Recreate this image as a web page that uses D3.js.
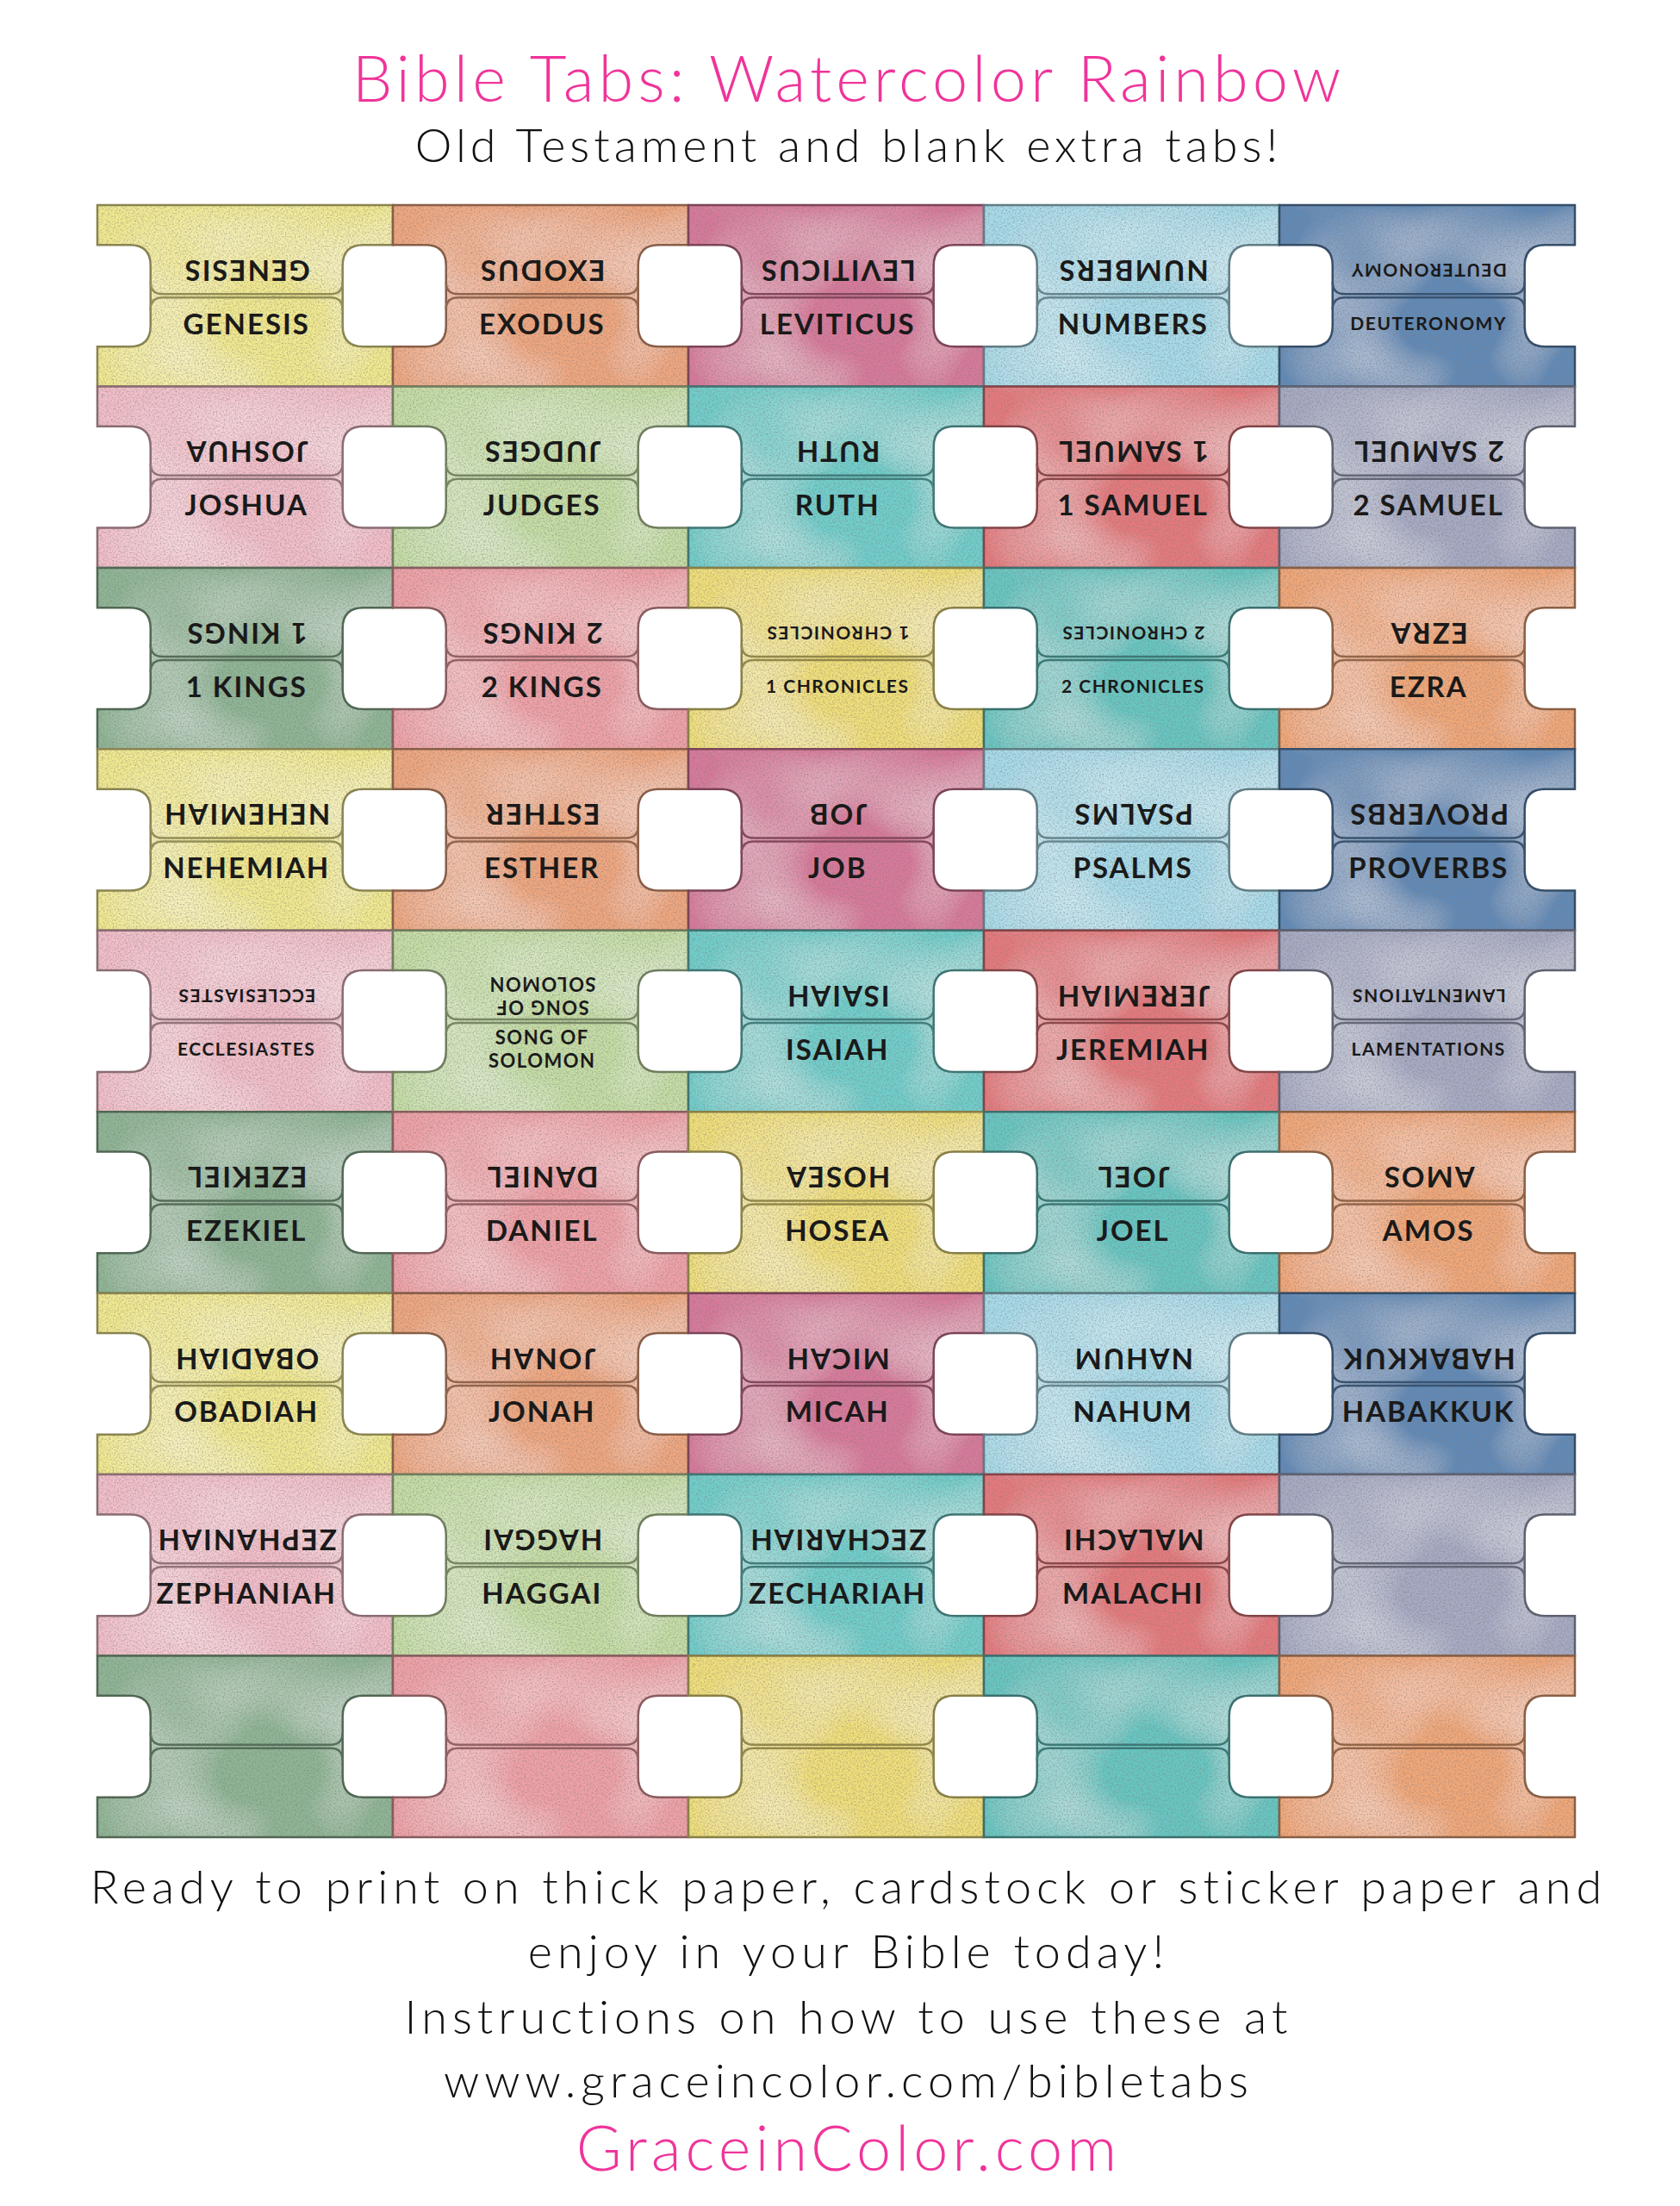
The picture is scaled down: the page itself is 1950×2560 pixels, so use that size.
<!DOCTYPE html>
<html>
<head>
<meta charset="utf-8">
<script src="https://cdn.jsdelivr.net/npm/d3@7"></script>
<style>
  body { margin: 0; background: #fff; }
  text { font-family: Lato, "DejaVu Sans", sans-serif; }
</style>
</head>
<body>
<svg id="chart" width="1950" height="2560"></svg>
<script>
const books = [
  "GENESIS", "EXODUS", "LEVITICUS", "NUMBERS", "DEUTERONOMY",
  "JOSHUA", "JUDGES", "RUTH", "1 SAMUEL", "2 SAMUEL",
  "1 KINGS", "2 KINGS", "1 CHRONICLES", "2 CHRONICLES", "EZRA",
  "NEHEMIAH", "ESTHER", "JOB", "PSALMS", "PROVERBS",
  "ECCLESIASTES", "SONG OF|SOLOMON", "ISAIAH", "JEREMIAH", "LAMENTATIONS",
  "EZEKIEL", "DANIEL", "HOSEA", "JOEL", "AMOS",
  "OBADIAH", "JONAH", "MICAH", "NAHUM", "HABAKKUK",
  "ZEPHANIAH", "HAGGAI", "ZECHARIAH", "MALACHI", "",
  "", "", "", "", ""
];
const smallBooks = ["DEUTERONOMY", "1 CHRONICLES", "2 CHRONICLES", "ECCLESIASTES", "LAMENTATIONS", "SONG OF|SOLOMON"];
// 15-colour cycle repeating every three rows
const palette = [
  "#f2ea90", "#f0a77f", "#d9799b", "#a9dcea", "#5f8ab8",
  "#f3bfca", "#c6dea6", "#70cfcc", "#e6797d", "#a7abc4",
  "#8fb695", "#f0a2a8", "#f1e07a", "#66c7c3", "#f2a878"
];
const titleText = "Bible Tabs: Watercolor Rainbow";
const subtitleText = "Old Testament and blank extra tabs!";
const footerLines = [
  "Ready to print on thick paper, cardstock or sticker paper and",
  "enjoy in your Bible today!",
  "Instructions on how to use these at",
  "www.graceincolor.com/bibletabs"
];
const siteText = "GraceinColor.com";

const svg = d3.select("#chart");
const nCols = 5, nRows = 9;

const x = d3.scaleBand().domain(d3.range(nCols)).range([113, 1828]);
const y = d3.scaleBand().domain(d3.range(nRows)).range([238, 2132]);
const w = x.bandwidth(), h = y.bandwidth();

// watercolor-ish texture
const defs = svg.append("defs");
const f = defs.append("filter").attr("id", "paper").attr("x", 0).attr("y", 0).attr("width", 1).attr("height", 1);
f.append("feTurbulence").attr("type", "fractalNoise").attr("baseFrequency", 0.55).attr("numOctaves", 3).attr("seed", 3).attr("result", "grain");
f.append("feColorMatrix").attr("in", "grain").attr("type", "matrix")
  .attr("values", "0 0 0 0 0.2  0 0 0 0 0.2  0 0 0 0 0.2  0 0 0 -1.4 0.82").attr("result", "grainA");
f.append("feTurbulence").attr("type", "fractalNoise").attr("baseFrequency", 0.006).attr("numOctaves", 2).attr("seed", 8).attr("result", "blot");
f.append("feColorMatrix").attr("in", "blot").attr("type", "matrix")
  .attr("values", "0 0 0 0 1  0 0 0 0 1  0 0 0 0 1  0 0 0 1.6 -0.8").attr("result", "blotA");
f.append("feComposite").attr("in", "grainA").attr("in2", "SourceGraphic").attr("operator", "in").attr("result", "g2");
f.append("feComposite").attr("in", "blotA").attr("in2", "SourceGraphic").attr("operator", "in").attr("result", "b2");
const m = f.append("feMerge");
m.append("feMergeNode").attr("in", "SourceGraphic");
m.append("feMergeNode").attr("in", "b2");
m.append("feMergeNode").attr("in", "g2");

const x1 = 0.18 * w, x2 = 0.83 * w, y1 = 0.22 * h, y2 = 0.78 * h, ym = 0.5 * h, r = 24, r2 = 14;

function outline() {
  return `M0,0 H${w} V${y1} H${x2 + r} Q${x2},${y1} ${x2},${y1 + r} V${y2 - r} Q${x2},${y2} ${x2 + r},${y2} H${w}
    V${h} H0 V${y2} H${x1 - r} Q${x1},${y2} ${x1},${y2 - r} V${y1 + r} Q${x1},${y1} ${x1 - r},${y1} H0 Z`;
}
function midline() {
  return `M${x1},${ym - r2 - 2} Q${x1},${ym - 2} ${x1 + r2},${ym - 2} H${x2 - r2} Q${x2},${ym - 2} ${x2},${ym - r2 - 2}
    M${x1},${ym + r2 + 2} Q${x1},${ym + 2} ${x1 + r2},${ym + 2} H${x2 - r2} Q${x2},${ym + 2} ${x2},${ym + r2 + 2}`;
}

const cells = svg.append("g").selectAll("g").data(books).join("g")
  .attr("transform", (d, i) => `translate(${x(i % nCols)},${y(Math.floor(i / nCols))})`);

cells.append("path").attr("d", outline())
  .attr("fill", (d, i) => palette[i % 15])
  .attr("filter", "url(#paper)");
cells.append("path").attr("d", outline()).attr("fill", "none")
  .attr("stroke", (d, i) => d3.color(palette[i % 15]).darker(1.6)).attr("stroke-width", 2.5);
cells.append("path").attr("d", midline()).attr("fill", "none")
  .attr("stroke", (d, i) => d3.color(palette[i % 15]).darker(1.4)).attr("stroke-width", 2.5);

const cx = (x1 + x2) / 2;
function addLabel(sel, flip) {
  sel.each(function(d) {
    if (!d) return;
    const small = smallBooks.includes(d);
    const lines = d.split("|");
    const fs = lines.length > 1 ? 22 : (small ? 21 : 33);
    const g = d3.select(this).append("g")
      .attr("transform", flip ? `translate(${cx},${0.36 * h}) rotate(180)` : `translate(${cx},${0.655 * h})`);
    const t = g.append("text").attr("text-anchor", "middle").attr("font-size", fs)
      .attr("font-weight", 700).attr("letter-spacing", small ? 1.5 : 2).attr("fill", "#1a1a1a");
    lines.forEach((ln, k) => t.append("tspan").attr("x", 0)
      .attr("y", (k - (lines.length - 1) / 2) * 27).attr("dy", "0.36em").text(ln));
  });
}
addLabel(cells, true);
addLabel(cells, false);

// texts
const tx = 985;
svg.append("text").attr("x", tx).attr("y", 118).attr("text-anchor", "middle")
  .attr("font-size", 74).attr("font-weight", 300).attr("letter-spacing", 5).attr("fill", "#f0349a").text(titleText);
svg.append("text").attr("x", tx).attr("y", 188).attr("text-anchor", "middle")
  .attr("font-size", 54).attr("font-weight", 300).attr("letter-spacing", 5).attr("fill", "#111").text(subtitleText);
svg.append("g").selectAll("text").data(footerLines).join("text")
  .attr("x", tx).attr("y", (d, i) => [2209, 2284, 2360, 2434][i])
  .attr("text-anchor", "middle").attr("font-size", 54).attr("font-weight", 300)
  .attr("letter-spacing", 6).attr("fill", "#111").text(d => d);
svg.append("text").attr("x", tx).attr("y", 2519).attr("text-anchor", "middle")
  .attr("font-size", 72).attr("font-weight", 300).attr("letter-spacing", 5).attr("fill", "#f0349a").text(siteText);
</script>
</body>
</html>
